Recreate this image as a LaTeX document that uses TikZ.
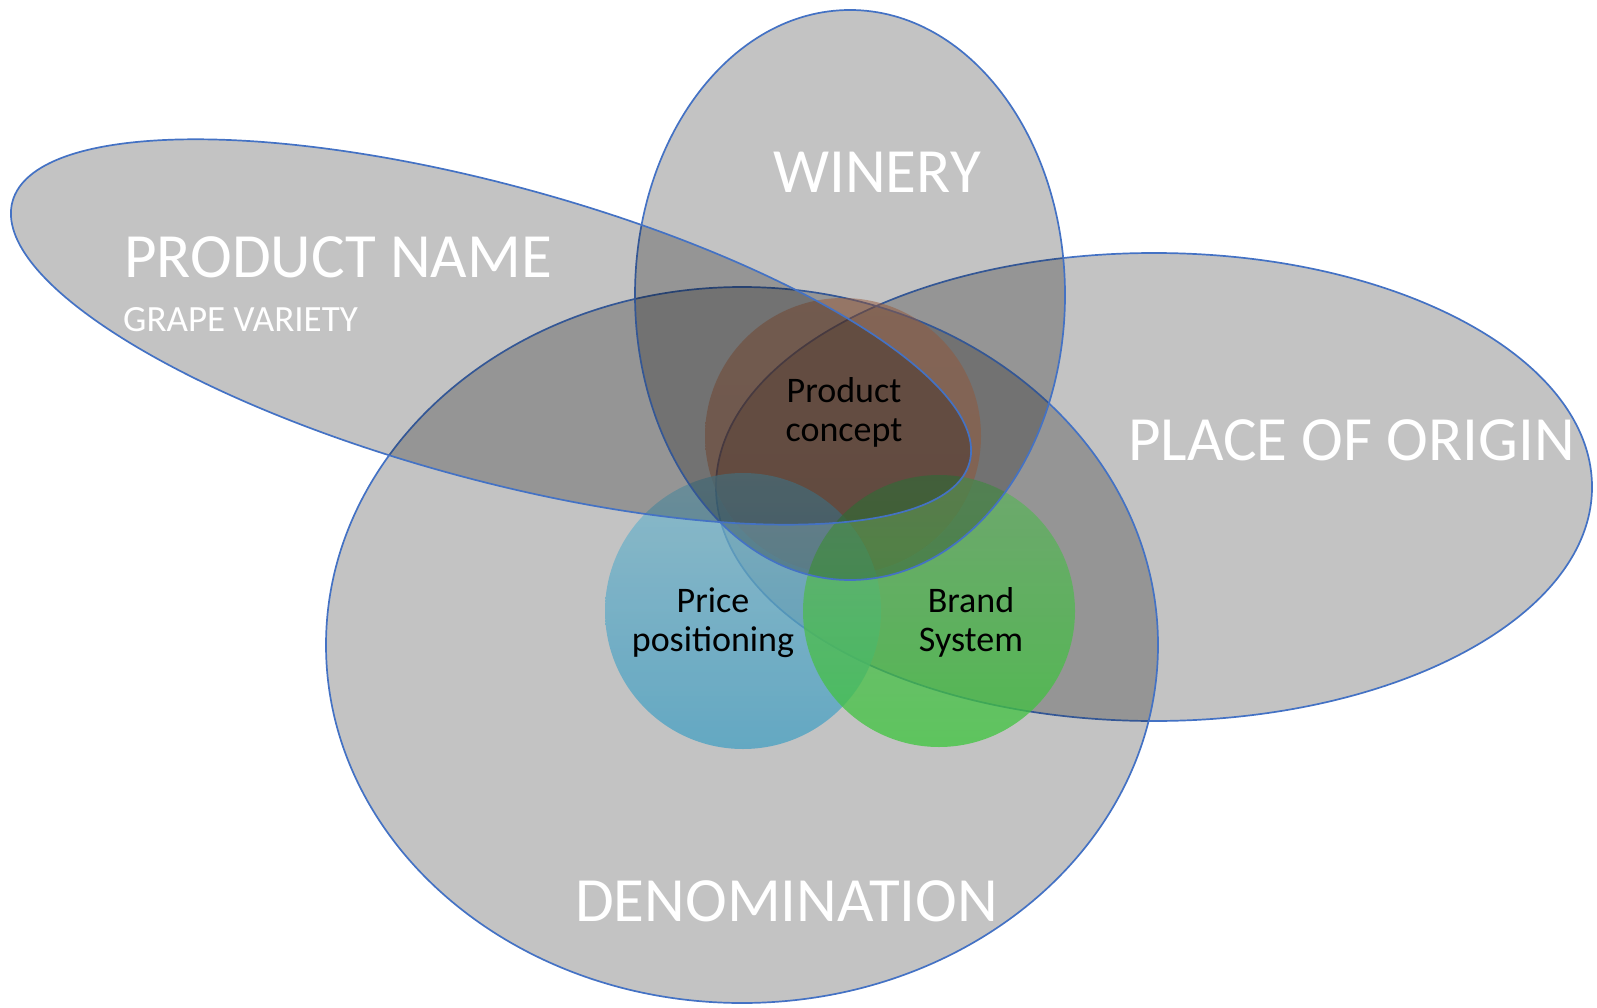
\documentclass[tikz,border=0pt]{standalone}
\usepackage{fontspec}
\setmainfont{Carlito}

\definecolor{setblue}{RGB}{68,114,196}
\definecolor{concepttop}{RGB}{196,116,76}
\definecolor{conceptbot}{RGB}{186,108,70}
\definecolor{pricetop}{RGB}{122,182,202}
\definecolor{pricebot}{RGB}{68,159,195}
\definecolor{brandtop}{RGB}{98,174,98}
\definecolor{brandbot}{RGB}{60,198,60}

\begin{document}
\begin{tikzpicture}[x=1pt,y=-1pt,
    set/.style={fill=black,fill opacity=0.235,draw=setblue,line width=1.7pt},
    big label/.style={text=white,inner sep=0pt,font=\fontsize{63}{70}\selectfont},
    small label/.style={text=white,inner sep=0pt,font=\fontsize{37}{42}\selectfont},
    circle label/.style={align=center,inner sep=0pt,font=\fontsize{36}{39}\selectfont}]

  \useasboundingbox (0,0) rectangle (1597,1008);

  % sets lying under the circles
  \path[set] (1154,487) ellipse [x radius=438, y radius=234];
  \path[set] (742,645) ellipse [x radius=416, y radius=358];

  % the three circles
  \shade[top color=concepttop, bottom color=conceptbot, fill opacity=0.5] (843,436) circle [radius=138];
  \shade[top color=pricetop, bottom color=pricebot, fill opacity=0.75] (743,611) circle [radius=138];
  \shade[top color=brandtop, bottom color=brandbot, fill opacity=0.75] (939,611) circle [radius=136];

  % sets lying over the circles
  \path[set] (850,295) ellipse [x radius=215, y radius=285];
  \path[set, rotate around={-15.25:(491,332)}] (491,332) ellipse [x radius=496, y radius=147];

  \node[big label, anchor=base] (winery) at (877,193) {WINERY};
  \node[big label, anchor=base west] (name) at (124,277) {PRODUCT NAME};
  \node[small label, anchor=base west] (grape) at (123,331) {GRAPE VARIETY};
  \node[big label, anchor=base west] (origin) at (1128,460) {PLACE OF ORIGIN};
  \node[big label, anchor=base west] (denomination) at (575,921) {DENOMINATION};

  \node[circle label] (concept) at (844,412) {Product\\concept};
  \node[circle label] (price) at (713,623) {Price\\positioning};
  \node[circle label] (brand) at (971,622) {Brand\\System};

\end{tikzpicture}
\end{document}
